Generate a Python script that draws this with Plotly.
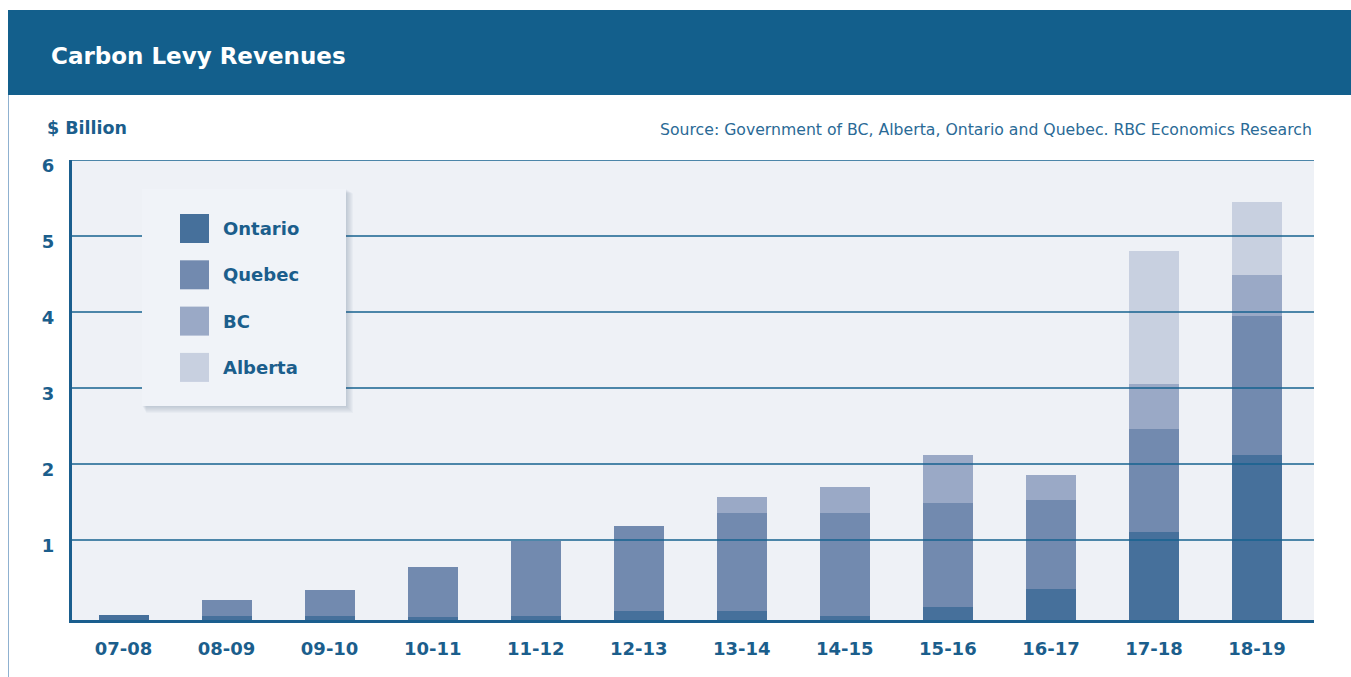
import plotly.graph_objects as go

# ---------------- data ----------------
categories = ["07-08", "08-09", "09-10", "10-11", "11-12", "12-13",
              "13-14", "14-15", "15-16", "16-17", "17-18", "18-19"]
ontario = [0.09, 0.08, 0.08, 0.07, 0.08, 0.14, 0.14, 0.08, 0.20, 0.43, 1.18, 2.20]
quebec = [0.00, 0.21, 0.34, 0.65, 0.99, 1.12, 1.30, 1.36, 1.36, 1.17, 1.36, 1.82]
bc = [0.00, 0.00, 0.00, 0.00, 0.00, 0.00, 0.21, 0.34, 0.64, 0.34, 0.59, 0.55]
alberta = [0.00, 0.00, 0.00, 0.00, 0.00, 0.00, 0.00, 0.00, 0.00, 0.00, 1.75, 0.95]
series_names = ["Ontario", "Quebec", "BC", "Alberta"]
y_ticks = [1, 2, 3, 4, 5, 6]
title_text = "Carbon Levy Revenues"
unit_text = "$ Billion"
source_text = "Source: Government of BC, Alberta, Ontario and Quebec. RBC Economics Research"

# ---------------- style ----------------
series_colors = ["#46709b", "#728aaf", "#9aa9c6", "#c8d0e0"]
TEXT = "#1b5e8c"
GRID = "#16628f"
HEADER = "#135f8c"
PLOT_BG = "#eef1f6"
FONT = "DejaVu Sans"

W_PX, H_PX = 1351, 677
L, R, T, B = 72, 37, 160, 57
PW = W_PX - L - R
PH = H_PX - T - B


def px(x):
    return (x - L) / PW


def py(y):
    return (H_PX - B - y) / PH


fig = go.Figure()
for name, vals, col in zip(series_names, [ontario, quebec, bc, alberta], series_colors):
    fig.add_trace(go.Bar(x=categories, y=vals, name=name,
                         marker=dict(color=col, line=dict(width=0)),
                         showlegend=False,
                         hovertemplate="%{x}: %{y:.2f}<extra>" + name + "</extra>"))

shapes = []
# header band and card border
shapes.append(dict(type="rect", xref="paper", yref="paper", x0=px(8), x1=px(W_PX + 5),
                   y0=py(95), y1=py(10), fillcolor=HEADER, line=dict(width=0), layer="below"))
shapes.append(dict(type="line", xref="paper", yref="paper", x0=px(8.5), x1=px(8.5),
                   y0=py(95), y1=py(H_PX + 5), line=dict(color="#8fb1d0", width=1), layer="below"))
# gridlines above bars (offset a few pixels above tick positions, as in the original)
for k in y_ticks:
    shapes.append(dict(type="line", xref="paper", yref="y", x0=0, x1=1,
                       ysizemode="pixel", yanchor=k, y0=6, y1=6,
                       line=dict(color=GRID, width=1.5), layer="above"))

# custom legend box with soft shadow
bx0, by0, bx1, by1 = 142, 189, 346, 406
for i in range(1, 8):
    shapes.append(dict(type="rect", xref="paper", yref="paper",
                       x0=px(bx0 + i * 0.6), x1=px(bx1 + i), y0=py(by1 + i), y1=py(by0 + i * 0.6),
                       fillcolor="rgba(70,80,100,0.035)", line=dict(width=0), layer="above"))
shapes.append(dict(type="rect", xref="paper", yref="paper", x0=px(bx0), x1=px(bx1),
                   y0=py(by1), y1=py(by0), fillcolor="#f0f3f8", line=dict(width=0), layer="above"))

annotations = []
for i, (name, col) in enumerate(zip(series_names, series_colors)):
    top = 214 + i * 46.3
    shapes.append(dict(type="rect", xref="paper", yref="paper", x0=px(180), x1=px(209),
                       y0=py(top + 29), y1=py(top), fillcolor=col, line=dict(width=0), layer="above"))
    annotations.append(dict(text=name, xref="paper", yref="paper", x=px(221), y=py(top + 14.5),
                            xanchor="left", yanchor="middle", showarrow=False,
                            font=dict(family=FONT, size=18, color=TEXT, weight="bold")))

annotations.append(dict(text=title_text, xref="paper", yref="paper", x=px(49), y=py(56),
                        xanchor="left", yanchor="middle", showarrow=False,
                        font=dict(family=FONT, size=23, color="white", weight="bold")))
annotations.append(dict(text=unit_text, xref="paper", yref="paper", x=px(45), y=py(128),
                        xanchor="left", yanchor="middle", showarrow=False,
                        font=dict(family=FONT, size=17.5, color=TEXT, weight="bold")))
annotations.append(dict(text=source_text, xref="paper", yref="paper", x=px(1314), y=py(129),
                        xanchor="right", yanchor="middle", showarrow=False,
                        font=dict(family=FONT, size=15.7, color="#2a6a96")))

zero_px = 2  # zero line sits just under the axis line
r0 = zero_px / 76.0
r1 = r0 + PH / 76.0

fig.update_layout(
    width=W_PX, height=H_PX,
    margin=dict(l=L, r=R, t=T, b=B, pad=0),
    paper_bgcolor="white", plot_bgcolor=PLOT_BG,
    barmode="stack", bargap=0.515,
    showlegend=False,
    shapes=shapes, annotations=annotations,
    font=dict(family=FONT, color=TEXT),
    xaxis=dict(type="category", range=[-0.5, 11.553], showgrid=False, zeroline=False,
               showline=True, linecolor="#1a5e8e", linewidth=3, ticks="",
               tickfont=dict(family=FONT, size=18, color=TEXT, weight="bold"),
               ticklabelstandoff=10, fixedrange=True),
    yaxis=dict(range=[r0, r1], tickvals=y_ticks, showgrid=False, zeroline=False,
               showline=True, linecolor="#1a5e8e", linewidth=3, ticks="",
               tickfont=dict(family=FONT, size=18, color=TEXT, weight="bold"),
               ticklabelstandoff=11, fixedrange=True),
)

fig.write_html("out.html")
